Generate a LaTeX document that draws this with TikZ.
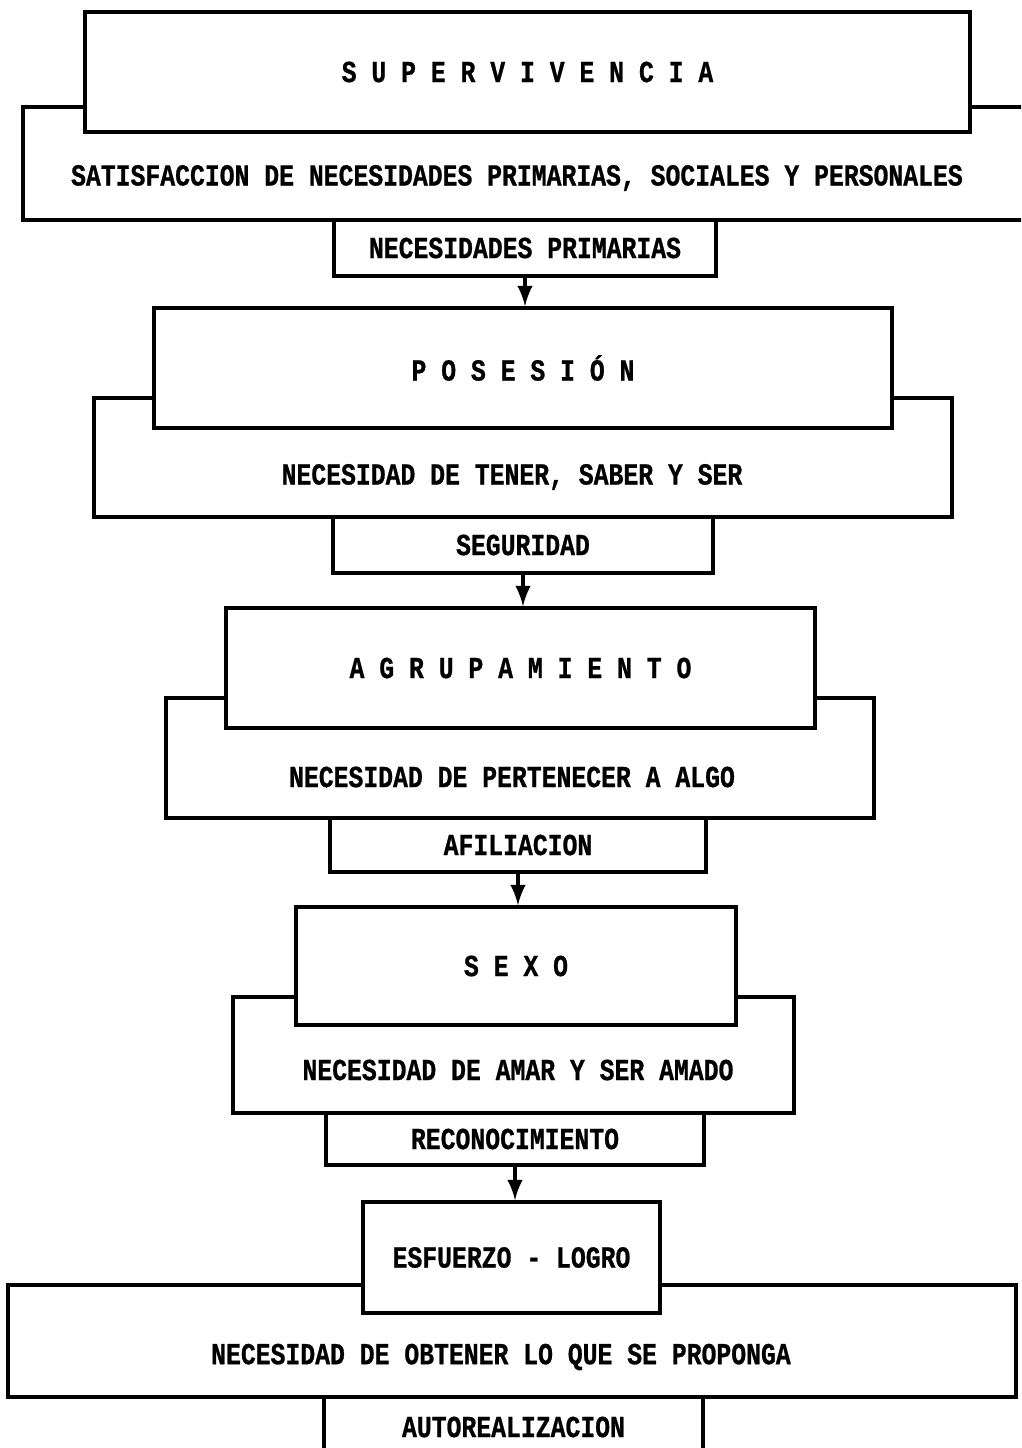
\documentclass[tikz,border=0pt]{standalone}
\usepackage{fontspec}
\newfontfamily\printfont[FakeStretch=0.81, FakeBold=0.8]{Liberation Mono}

\begin{document}
\begin{tikzpicture}[x=0.1mm, y=-0.1mm, line width=1pt,
    box/.style={rectangle, draw, fill=white, inner sep=0pt},
    txt/.style={inner sep=0pt, font=\printfont\bfseries\fontsize{8.7pt}{10pt}\selectfont}]
    \useasboundingbox (0,0) rectangle (1021,1448);
    \clip (0,0) rectangle (1021,1448);

    % Draw level 1
    \node[box, minimum width=101.7mm, minimum height=11.3mm] (satisf) at (531.5,163.5) {};
    \node[box, txt, minimum width=88.5mm, minimum height=12mm] (superv) at (527.5,72) {S U P E R V I V E N C I A};
    \node[txt] (satisftxt) at (517,178) {SATISFACCION DE NECESIDADES PRIMARIAS, SOCIALES Y PERSONALES};
    \node[box, txt, minimum width=38.2mm, minimum height=5.6mm] (primarias) at (525,248) {NECESIDADES PRIMARIAS};

    % Draw level 2
    \node[box, minimum width=85.8mm, minimum height=11.9mm] (tener) at (523,457.5) {};
    \node[box, txt, minimum width=73.8mm, minimum height=12mm] (posesion) at (523,368) {P O S E S I Ó N};
    \node[txt] (tenertxt) at (512,477) {NECESIDAD DE TENER, SABER Y SER};
    \node[box, txt, minimum width=38mm, minimum height=5.6mm] (seguridad) at (523,545) {SEGURIDAD};

    % Draw level 3
    \node[box, minimum width=70.8mm, minimum height=12mm] (pertenecer) at (520,758) {};
    \node[box, txt, minimum width=58.9mm, minimum height=12mm] (agrup) at (520.5,668) {A G R U P A M I E N T O};
    \node[txt] (pertenecertxt) at (512,777) {NECESIDAD DE PERTENECER A ALGO};
    \node[box, txt, minimum width=37.6mm, minimum height=5.4mm] (afiliacion) at (518,845) {AFILIACION};

    % Draw level 4
    \node[box, minimum width=56.1mm, minimum height=11.6mm] (amar) at (513.5,1055) {};
    \node[box, txt, minimum width=44mm, minimum height=11.8mm] (sexo) at (516,966) {S E X O};
    \node[txt] (amartxt) at (518,1070) {NECESIDAD DE AMAR Y SER AMADO};
    \node[box, txt, minimum width=37.8mm, minimum height=5.2mm] (reconoc) at (515,1139) {RECONOCIMIENTO};

    % Draw level 5
    \node[box, minimum width=100.8mm, minimum height=11.2mm] (obtener) at (512,1341) {};
    \node[box, txt, minimum width=29.7mm, minimum height=11.1mm] (esfuerzo) at (511.5,1257.5) {ESFUERZO - LOGRO};
    \node[txt] (obtenertxt) at (501,1357) {NECESIDAD DE OBTENER LO QUE SE PROPONGA};
    \node[box, minimum width=37.9mm, minimum height=7.3mm] (autoreal) at (513.5,1433.5) {};
    \node[txt] (autorealtxt) at (513.5,1427) {AUTOREALIZACION};

    % Draw connections
    \draw[-latex] (primarias.south) -- (primarias.south |- posesion.north);
    \draw[-latex] (seguridad.south) -- (seguridad.south |- agrup.north);
    \draw[-latex] (afiliacion.south) -- (afiliacion.south |- sexo.north);
    \draw[-latex] (reconoc.south) -- (reconoc.south |- esfuerzo.north);
\end{tikzpicture}
\end{document}
